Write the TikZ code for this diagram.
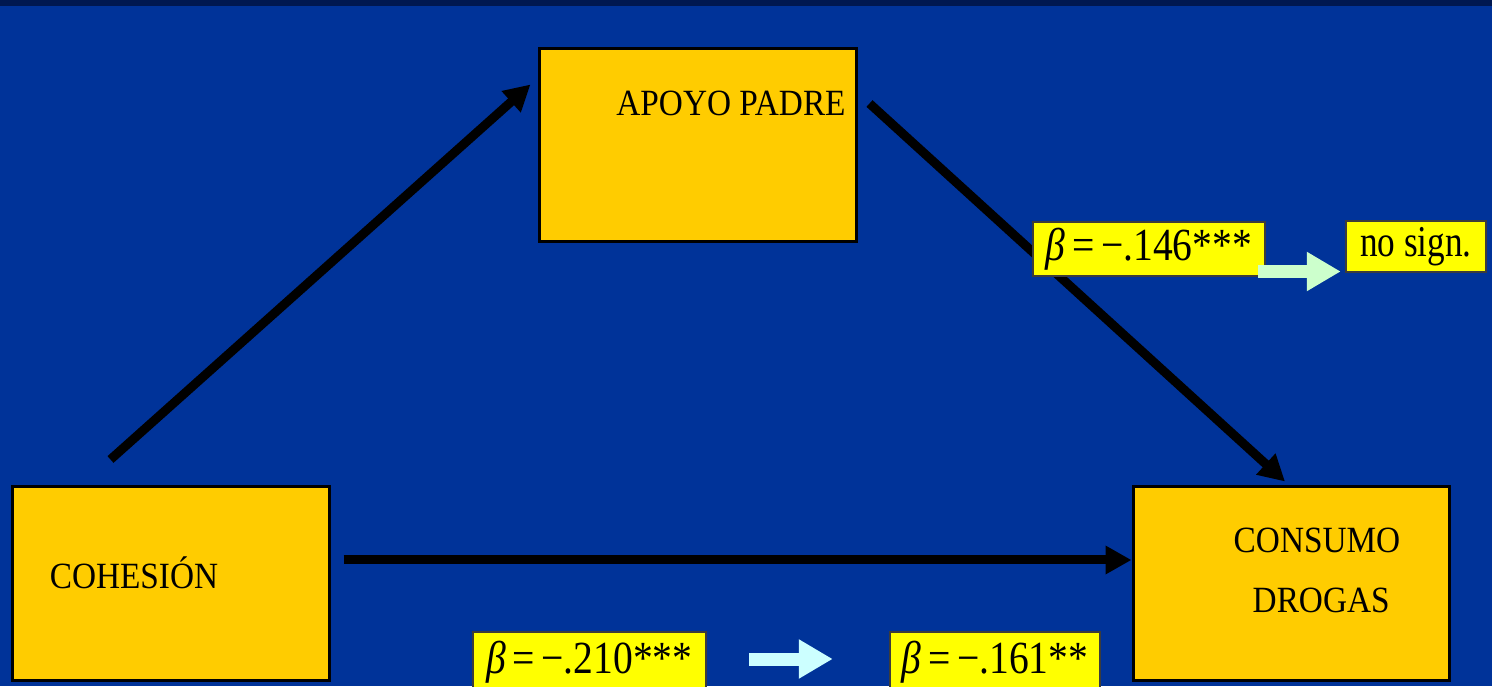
\documentclass[tikz,border=0pt]{standalone}
\usepackage{fontspec}
\setmainfont{Liberation Serif}
\usetikzlibrary{positioning,arrows.meta}

\definecolor{slideblue}{RGB}{0,51,153}
\definecolor{slidenavy}{RGB}{0,24,80}
\definecolor{boxgold}{RGB}{255,204,0}
\definecolor{coefyellow}{RGB}{255,255,0}
\definecolor{coefrim}{RGB}{60,60,60}
\definecolor{mint}{RGB}{204,255,204}
\definecolor{ice}{RGB}{204,255,255}

% slide text is a little narrow
\newcommand{\narrow}[1]{\scalebox{0.9}[1]{#1}}

\begin{document}
\begin{tikzpicture}[x=1pt,y=1pt,
      var/.style={rectangle,draw=black,line width=3pt,fill=boxgold,
                  inner sep=0pt,minimum width=317pt,minimum height=193pt},
      vartext/.style={inner sep=0pt,align=center,
                      font=\fontsize{37}{60}\selectfont},
      coef/.style={rectangle,draw=coefrim,line width=2.5pt,fill=coefyellow,
                   inner xsep=1pt,inner ysep=0pt,minimum height=54pt,
                   font=\fontsize{46}{46}\selectfont},
      effect/.style={draw,line width=9pt,-{Triangle[length=26pt,width=27pt]}},
      change/.style={line width=13pt,-{Triangle[length=34pt,width=37pt]}},
    ]
      \useasboundingbox (0,0) rectangle (1492,686);
      \fill[slideblue] (0,0) rectangle (1492,686);
      \fill[slidenavy] (0,680) rectangle (1492,686);

      % variables
      \node[var] (apoyo) at (697.5,540.5) {};
      \node[var] (cohesion) at (170.5,102.5) {};
      \node[var,minimum width=316pt] (consumo) at (1291,102.5) {};
      \node[vartext,anchor=base] (apoyotxt) at (731,570) {\narrow{APOYO PADRE}};
      \node[vartext,anchor=base] (cohesiontxt) at (134,97) {\narrow{COHESIÓN}};
      \node[vartext] (consumotxt) at (1317,116)
        {\narrow{CONSUMO}\\ \narrow{\ DROGAS}};

      % paths
      \path[effect] ([shift={(-60,26)}]cohesion.north)
                    -- ([shift={(-7,-37)}]apoyo.north west);
      \path[effect] ([shift={(12,-56)}]apoyo.north east)
                    -- ([shift={(-6,4)}]consumo.north);
      \path[effect] ([shift={(13,23.5)}]cohesion.east)
                    -- ([yshift=23.5]consumo.west);

      % coefficients
      \node[coef,minimum width=232pt] (b146) at (1149,437)
        {\scalebox{0.86}[1]{\textit{β}\,=\,−.146***}};
      \node[coef,minimum width=140pt,minimum height=51pt,
            font=\fontsize{44}{44}\selectfont] (nosign) at (1416,439.5)
        {\scalebox{0.8}[1]{no sign.}};
      \node[coef,minimum width=233pt,minimum height=60pt] (b210) at (589.5,24)
        {\scalebox{0.86}[1]{\textit{β}\,=\,−.210***}};
      \node[coef,minimum width=210pt,minimum height=60pt] (b161) at (995,24)
        {\scalebox{0.86}[1]{\textit{β}\,=\,−.161**}};

      \draw[change,mint] ([shift={(-8,-22.5)}]b146.east)
                         -- ([shift={(-4,-25)}]nosign.west);
      \draw[change,ice] ([shift={(42,3)}]b210.east)
                        -- ([shift={(-56,3)}]b161.west);
    \end{tikzpicture}
\end{document}
